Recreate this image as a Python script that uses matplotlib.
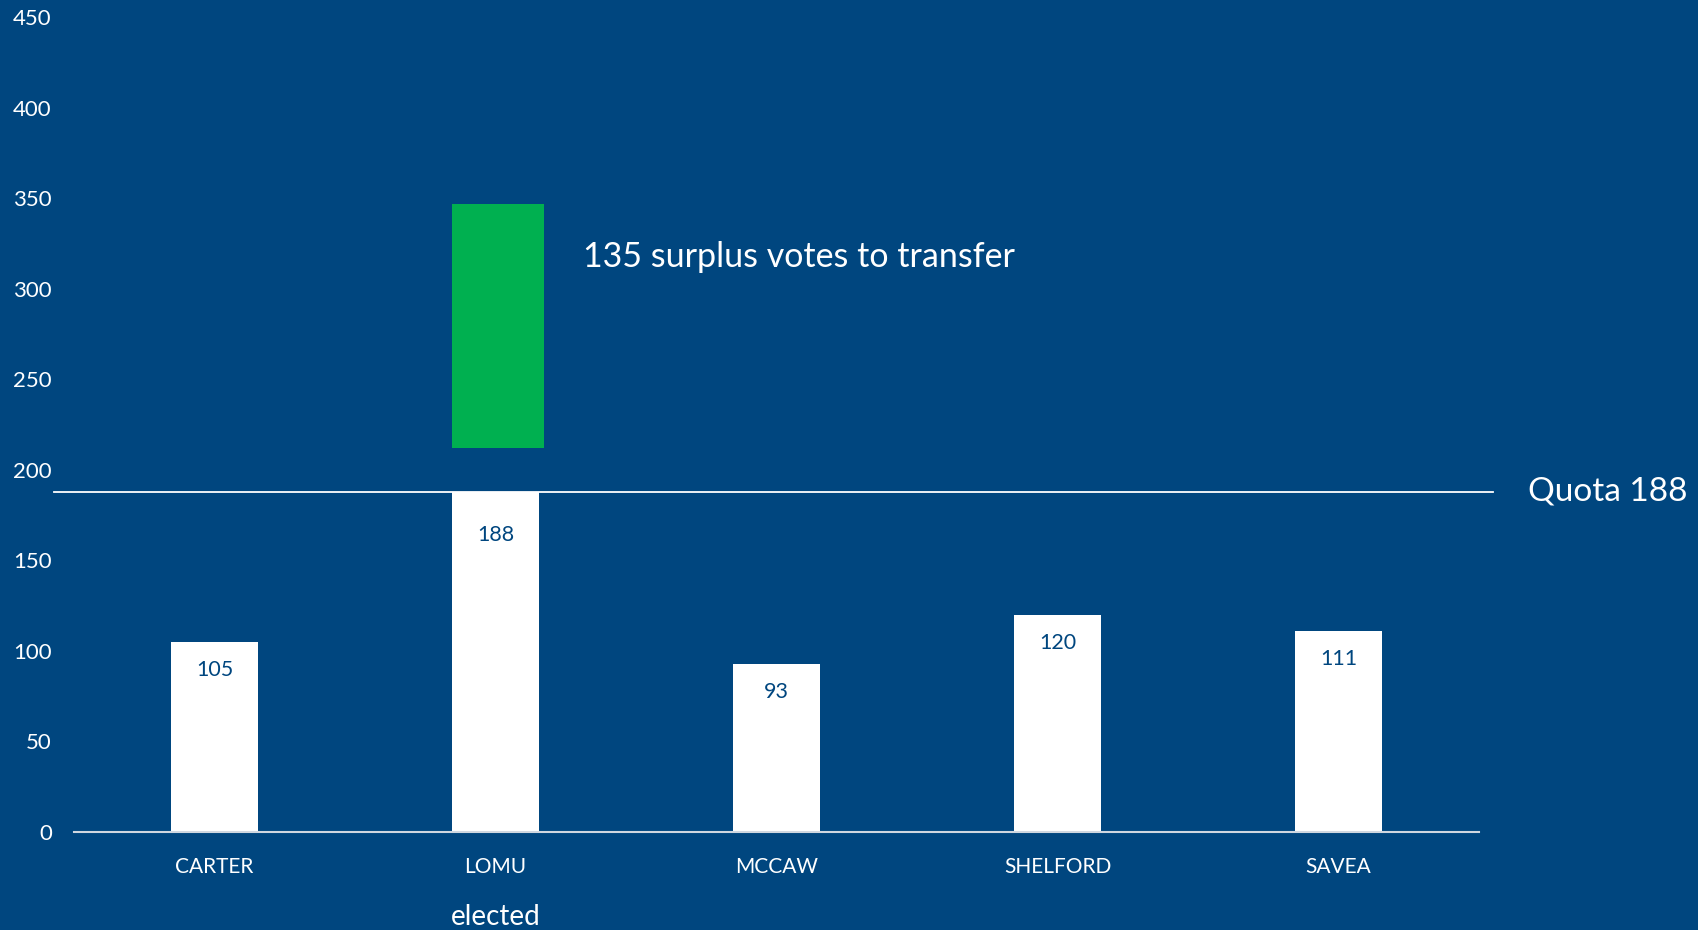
import matplotlib.pyplot as plt

# first-count votes per candidate
candidates = ["CARTER", "LOMU", "MCCAW", "SHELFORD", "SAVEA"]
votes = [105, 188, 93, 120, 111]
quota = 188
surplus = 135
surplus_base = 212  # where the surplus block starts on the y scale
elected = "LOMU"

bg = "#00467F"
green = "#00B050"

plt.rcParams['font.family'] = ['Lato', 'DejaVu Sans']

fig = plt.figure(figsize=(16.98, 9.30), dpi=100, facecolor=bg)
ax = fig.add_axes([74 / 1698, 1 - 832 / 930, (1479 - 74) / 1698, (832 - 17) / 930])
ax.set_facecolor(bg)

x = list(range(len(candidates)))
bw = 0.31
ax.bar(x, votes, width=bw, color="white", zorder=2)

# surplus block above the elected candidate
ei = candidates.index(elected)
ax.bar(ei - bw / 2, surplus, width=0.327, bottom=surplus_base, align="edge",
       color=green, zorder=2)

for xi, v in zip(x, votes):
    # the elected bar's label sits a little lower, clear of the quota line
    dy = -43 if xi == ei else -28
    ax.annotate(str(v), (xi, v), xytext=(0, dy), textcoords="offset pixels",
                ha="center", va="center", color=bg, fontsize=15.5)

# quota line runs past both ends of the axis
ax.plot([-0.57, 4.55], [quota, quota], color="white", lw=1.3, clip_on=False, zorder=3)
ax.text(4.673, quota, f"Quota {quota}", color="white", fontsize=24,
        ha="left", va="center")
ax.text(1.31, 317.5, f"{surplus} surplus votes to transfer", color="white",
        fontsize=24.5, ha="left", va="center")
ax.annotate("elected", (ei, 0), xytext=(0, -85), textcoords="offset pixels",
            ha="center", va="center", color="white", fontsize=20)

ax.set_xlim(-0.5, 4.5)
ax.set_ylim(0, 450)
ax.set_yticks(range(0, 451, 50))
ax.set_xticks(x)
ax.set_xticklabels(candidates)
ax.tick_params(axis="y", length=0, pad=16, colors="white", labelsize=16)
ax.tick_params(axis="x", length=0, pad=18, colors="white", labelsize=15)

for s in ["top", "right", "left"]:
    ax.spines[s].set_visible(False)
ax.spines["bottom"].set_color("#D0D7E0")
ax.spines["bottom"].set_linewidth(1.5)
ax.spines["bottom"].set_zorder(3)

fig.savefig("out.png", dpi=100, facecolor=bg)
